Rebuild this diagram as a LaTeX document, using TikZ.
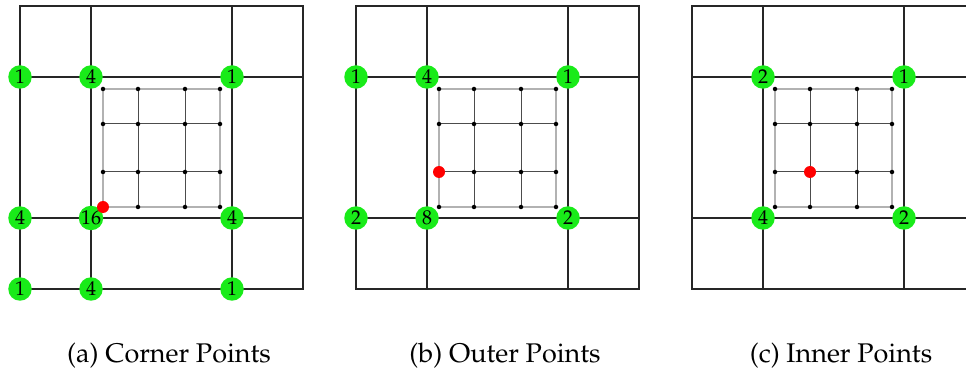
\documentclass[tikz,border=0pt]{standalone}
\usepackage[T1]{fontenc}
\usepackage{mathpazo}
\definecolor{wgreen}{RGB}{25,235,25}
\begin{document}
\begin{tikzpicture}[
    x=0.4pt,
    y=-0.4pt,
    font=\normalsize,
    coarse/.style={draw=black!85, line width=0.6pt},
    rim/.style={draw=black!30, line width=0.6pt},
    fine/.style={draw=black!70, line width=0.4pt},
    weight/.style={circle, fill=wgreen, inner sep=0pt, minimum size=9.4pt,
        font=\fontsize{8}{9}\selectfont},
    target/.style={fill=red},
    caption/.style={anchor=base, font=\fontsize{10.8}{13}\selectfont}
]
\path[use as bounding box] (0,0) rectangle (966,372);

% Coarse cells and the refined 4x4 patch, same for every panel.
\foreach \ox in {20,356,692} {
    \draw[coarse] (\ox,6) rectangle (\ox+283,289);
    \draw[coarse] (\ox+71,6) -- (\ox+71,289);
    \draw[coarse] (\ox+212,6) -- (\ox+212,289);
    \draw[coarse] (\ox,77) -- (\ox+283,77);
    \draw[coarse] (\ox,218) -- (\ox+283,218);
    \draw[rim] (\ox+83,89) rectangle (\ox+200,207);
    \foreach \fx in {118,165}
        \draw[fine] (\ox+\fx,89) -- (\ox+\fx,207);
    \foreach \fy in {124,172}
        \draw[fine] (\ox+83,\fy) -- (\ox+200,\fy);
    \foreach \fx in {83,118,165,200} {
        \foreach \fy in {89,124,172,207}
            \fill (\ox+\fx,\fy) circle (0.9pt);
    }
}

% (a) corner point: weights of the coarse nodes.
\foreach \x/\y/\w [count=\i] in {
    20/77/1, 91/77/4, 232/77/1,
    20/218/4, 91/218/16, 232/218/4,
    20/289/1, 91/289/4, 232/289/1
} {
    \node[weight] (a\i) at (\x,\y) {\w};
}
\fill[target] (103,207) circle (2.4pt);

% (b) outer point.
\foreach \x/\y/\w [count=\i] in {
    356/77/1, 427/77/4, 568/77/1,
    356/218/2, 427/218/8, 568/218/2
} {
    \node[weight] (b\i) at (\x,\y) {\w};
}
\fill[target] (439,172) circle (2.4pt);

% (c) inner point.
\foreach \x/\y/\w [count=\i] in {
    763/77/2, 904/77/1,
    763/218/4, 904/218/2
} {
    \node[weight] (c\i) at (\x,\y) {\w};
}
\fill[target] (810,172) circle (2.4pt);

\node[caption] (capa) at (169,362) {(a) Corner Points};
\node[caption] (capb) at (505,362) {(b) Outer Points};
\node[caption] (capc) at (841,362) {(c) Inner Points};
\end{tikzpicture}
\end{document}
